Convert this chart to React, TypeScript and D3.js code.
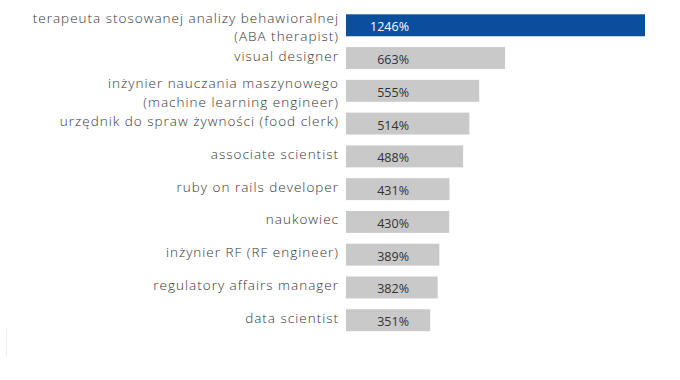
import React from "react";
import * as d3 from "d3";

const labels: string[][] = [
  ["terapeuta stosowanej analizy behawioralnej", "(ABA therapist)"],
  ["visual designer"],
  ["inżynier nauczania maszynowego", "(machine learning engineer)"],
  ["urzędnik do spraw żywności (food clerk)"],
  ["associate scientist"],
  ["ruby on rails developer"],
  ["naukowiec"],
  ["inżynier RF (RF engineer)"],
  ["regulatory affairs manager"],
  ["data scientist"],
];
const values: number[] = [1246, 663, 555, 514, 488, 431, 430, 389, 382, 351];
const highlight: boolean[] = [true, false, false, false, false, false, false, false, false, false];

const W = 680;
const H = 380;

export default function App() {
  const x = d3.scaleLinear().domain([0, 1246]).range([346, 645]);
  const y = d3
    .scaleBand<number>()
    .domain(d3.range(values.length))
    .range([3.5, 342])
    .paddingInner(0.33)
    .paddingOuter(0.33);
  const font = "'Open Sans', Lato, sans-serif";
  return (
    <svg
      width={W}
      height={H}
      style={{ position: "fixed", left: 0, top: 0, background: "#fff" }}
      fontFamily={font}
    >
      <line x1={6.5} x2={6.5} y1={330} y2={356} stroke="#eeeeee" strokeWidth={1} />
      {values.map((v, i) => {
        const y0 = y(i)!;
        const bh = y.bandwidth();
        const cy = y0 + bh / 2;
        const lines = labels[i];
        return (
          <g key={i}>
            <rect
              x={x(0)}
              y={y0}
              width={x(v) - x(0)}
              height={bh}
              fill={highlight[i] ? "#0a4f9e" : "#c9c9c9"}
            />
            <text
              x={409}
              y={cy + 6}
              textAnchor="end"
              fontSize={12.5}
              fill={highlight[i] ? "#ffffff" : "#333333"}
            >
              {v}%
            </text>
            {lines.map((t, j) => (
              <text
                key={j}
                x={339}
                y={lines.length > 1 ? cy - 2.5 + j * 18.5 : cy + 2.5}
                textAnchor="end"
                fontSize={13.5}
                fontWeight={300}
                letterSpacing={1.0}
                fill="#353535"
              >
                {t}
              </text>
            ))}
          </g>
        );
      })}
    </svg>
  );
}
